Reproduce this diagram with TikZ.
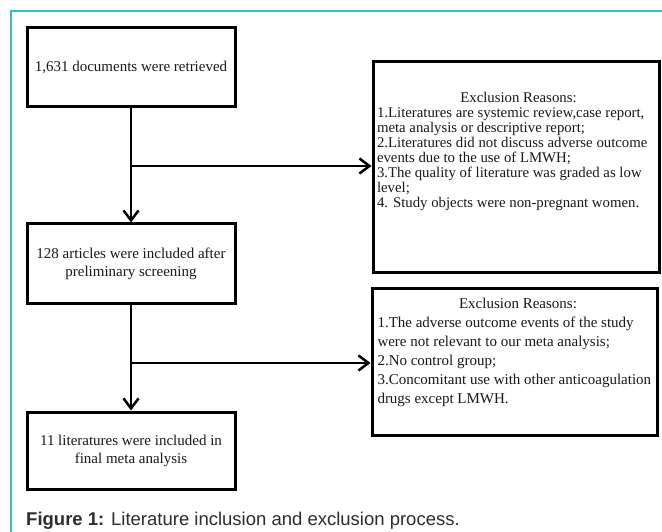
\documentclass[tikz,border=0pt]{standalone}
\usepackage{fontspec}
\setmainfont{Liberation Serif}
\newfontfamily\capfont{Liberation Sans}
\usetikzlibrary{arrows.meta}
\definecolor{frameteal}{RGB}{52,195,176}
\definecolor{inkgray}{RGB}{25,25,25}
\definecolor{capgray}{RGB}{45,45,45}
\begin{document}
\begin{tikzpicture}[x=1pt,y=-1pt,
  box/.style={draw=black, line width=3pt, inner sep=0pt},
  stepbox/.style={box, minimum width=208, minimum height=79, align=center,
    font=\fontsize{15}{18}\selectfont, text=inkgray},
  flow/.style={line width=2.7pt, -{Straight Barb[length=10pt,width=15pt,line width=2.5pt]}},
  reason/.style={inner sep=0pt, align=flush left, text=inkgray, anchor=north},
  framestyle/.style={draw=frameteal, line width=1.4pt},
]
\useasboundingbox (0,0) rectangle (662,532);
\fill[white] (0,0) rectangle (662,532);
\draw[framestyle] (11,532) -- (11,11) -- (662,11);

% left column
\node[stepbox] (b1) at (131,67.5) {1,631 documents were retrieved};
\node[stepbox] (b2) at (131,263.5) {128 articles were included after\\preliminary screening};
\node[stepbox, minimum height=77] (b3) at (131,450.5) {11 literatures were included in\\final meta analysis};

% exclusion boxes
\node[box, minimum width=286, minimum height=210] (eA) at (516,167) {};
\node[reason, text width=283, font=\fontsize{14.8}{15}\selectfont] (eAt) at (518.5,92.5) {%
\hyphenpenalty=10000
\makebox[\linewidth][c]{Exclusion Reasons:}\\
1.Literatures are systemic review,case report,\\
meta analysis or descriptive report;\\
2.Literatures did not discuss adverse outcome\\
events due to the use of LMWH;\\
3.The quality of literature was graded as low\\
level;\\
4. Study objects were non-pregnant women.};

\node[box, minimum width=285, minimum height=147] (eB) at (514.5,361.5) {};
\node[reason, text width=281, font=\fontsize{15}{19}\selectfont] (eBt) at (518,298) {%
\hyphenpenalty=10000
\makebox[\linewidth][c]{Exclusion Reasons:}\\
1.The adverse outcome events of the study\\
were not relevant to our meta analysis;\\
2.No control group;\\
3.Concomitant use with other anticoagulation\\
drugs except LMWH.};

% connectors
\draw[flow] (b1.south) -- (b2.north);
\draw[flow] (b2.south) -- (b3.north);
\coordinate (j1) at (131,166);
\coordinate (j2) at (131,363);
\draw[flow] (j1) -- (j1 -| eA.west);
\draw[flow] (j2) -- (j2 -| eB.west);

% caption
\node[anchor=base west, inner sep=0pt, text=capgray, font=\capfont\fontsize{18.5}{21}\selectfont] (cap) at (26,525)
  {\textbf{Figure 1:} Literature inclusion and exclusion process.};
\end{tikzpicture}
\end{document}
